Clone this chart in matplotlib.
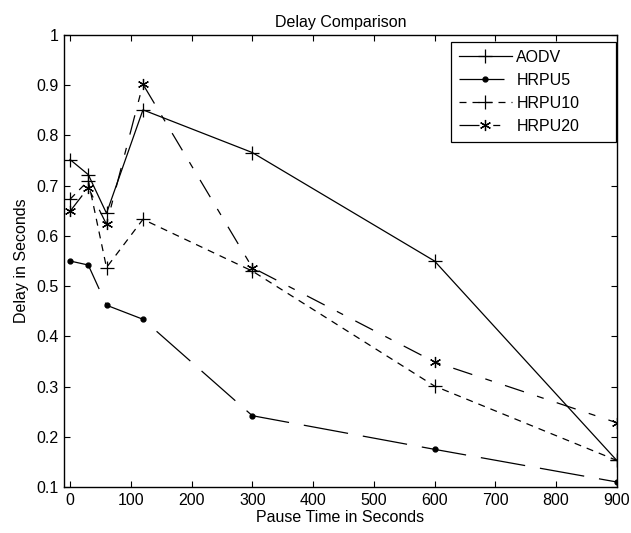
import matplotlib
matplotlib.use("Agg")
import matplotlib.pyplot as plt

plt.rcParams['font.family'] = ['Liberation Sans', 'DejaVu Sans']

pause_time = [0, 30, 60, 120, 300, 600, 900]
aodv = [0.752, 0.722, 0.645, 0.851, 0.766, 0.55, 0.153]
hrpu5 = [0.55, 0.542, 0.462, 0.434, 0.242, 0.175, 0.110]
hrpu10 = [0.673, 0.71, 0.537, 0.633, 0.530, 0.301, 0.153]
hrpu20 = [0.649, 0.696, 0.623, 0.902, 0.537, 0.349, 0.228]

fig = plt.figure(figsize=(6.31, 5.33), dpi=100)
ax = fig.add_axes([0.1014, 0.0863, 0.876, 0.848])

lw = 0.9
ax.plot(pause_time, aodv, color='black', lw=lw, linestyle='-', marker='+', markersize=9.5, markeredgewidth=0.9, label='AODV')
ax.plot(pause_time, hrpu5, color='black', lw=lw, linestyle=(0, (36, 12)), marker='.', markersize=7, label='HRPU5')
ax.plot(pause_time, hrpu10, color='black', lw=lw, linestyle=(0, (5.6, 4.8)), marker='+', markersize=9.5, markeredgewidth=0.9, label='HRPU10')
ax.plot(pause_time, hrpu20, color='black', lw=lw, linestyle=(0, (16, 11, 5.6, 11)), marker=(6, 2, 0), markersize=8, markeredgewidth=0.9, label='HRPU20')

ax.set_xlim(-10, 900)
ax.set_ylim(0.1, 1.0)
ax.set_xticks(range(0, 1000, 100))
ax.set_yticks([0.1, 0.2, 0.3, 0.4, 0.5, 0.6, 0.7, 0.8, 0.9, 1.0])
ax.set_yticklabels(['0.1', '0.2', '0.3', '0.4', '0.5', '0.6', '0.7', '0.8', '0.9', '1'])
ax.tick_params(direction='in', top=True, right=True, labelsize=11.5, length=4, width=0.8, pad=4)
for s in ax.spines.values():
    s.set_linewidth(1.0)

ax.set_title('Delay Comparison', fontsize=11.5, pad=6)
ax.set_xlabel('Pause Time in Seconds', fontsize=11.5, labelpad=2)
ax.set_ylabel('Delay in Seconds', fontsize=11.5, labelpad=5)

leg = ax.legend(loc='upper left', bbox_to_anchor=(0.70, 0.768, 0.298, 0.217), mode='expand',
                fontsize=11.5, frameon=True, fancybox=False,
                edgecolor='black', framealpha=1, borderaxespad=0,
                handlelength=3.3, handletextpad=0.3, labelspacing=0.5, borderpad=0.5)
leg.get_frame().set_linewidth(0.9)

fig.savefig('out.png', dpi=100)
